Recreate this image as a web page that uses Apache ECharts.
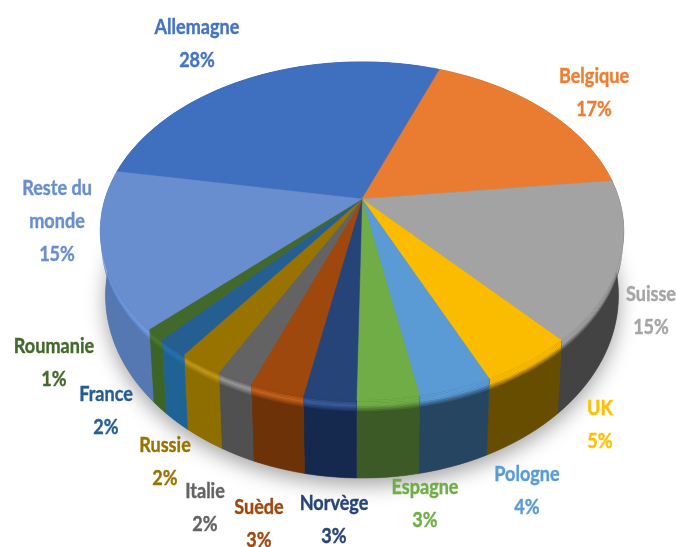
<!DOCTYPE html>
<html>
<head>
<meta charset="utf-8">
<style>
  html, body { margin: 0; padding: 0; background: #fff; }
  #chart { width: 676px; height: 547px; filter: blur(0.6px); }
</style>
<script src="https://cdn.jsdelivr.net/npm/echarts@6/dist/echarts.min.js"></script>
</head>
<body>
<div id="chart"></div>
<script>
// data
const countries = ['Allemagne', 'Belgique', 'Suisse', 'UK', 'Pologne', 'Espagne', 'Norvège', 'Suède', 'Italie', 'Russie', 'France', 'Roumanie', 'Reste du\nmonde']
const shares = [28.0, 17.4, 15.2, 4.9, 3.8, 3.2, 2.7, 2.8, 1.9, 2.3, 1.7, 1.1, 15.0]

// styles
const faceColors = ['#3F6FBF', '#E97C30', '#A3A3A3', '#FBBC00', '#5B9BD5', '#70AD47', '#264478', '#9E480E', '#636363', '#997300', '#255E91', '#43682B', '#698ED0']
const sideColors = ['#2F5590', '#AF5C24', '#434343', '#664D00', '#264560', '#3C5A25', '#15294F', '#6E3209', '#505050', '#8F6E00', '#1F6395', '#3C6426', '#5577B2']
const edgeColors = ['#3F6FBF', '#E97C30', '#A3A3A3', '#FBBC00', '#5B9BD5', '#70AD47', '#3A60A0', '#C8641E', '#9C9C9C', '#C39A1A', '#2A73B0', '#4F7A33', '#70A0EC']
const labelColors = ['#4472C4', '#ED7D31', '#A5A5A5', '#FFC000', '#5B9BD5', '#70AD47', '#264478', '#9E480E', '#636363', '#997300', '#255E91', '#43682B', '#698ED0']
// centre of the first line of each label
const labelAnchors = [[197, 27], [594, 76], [651, 294], [600, 408], [527, 474], [425, 487], [334, 503], [259, 507], [205, 491], [165, 445], [106, 394], [54, 346], [57, 188]]

// perspective of the disc
const cx = 362, cy = 199, radiusX = 257, radiusY = 163, persp = 0.189
const bottomScaleX = 0.98, bottomScaleY = 1.08, bottomDrop = 62
const startAngle = 280, bevelDepth = 0.16, bevelLayers = 8

const total = shares.reduce((a, b) => a + b, 0)
const angles = [startAngle]
shares.forEach((v) => angles.push(angles[angles.length - 1] + v / total * 360))

// t = 0 is the top rim, t = 1 the bottom rim
function rimPoint(deg, t) {
  const a = deg * Math.PI / 180
  const X = Math.sin(a), Y = -Math.cos(a)
  const w = 1 - persp * Y
  const px = radiusX * X / w, py = radiusY * Y / w
  return [
    cx + px * (1 + (bottomScaleX - 1) * t),
    cy + py * (1 + (bottomScaleY - 1) * t) + bottomDrop * t
  ]
}

function arc(a0, a1, t) {
  const n = Math.max(2, Math.ceil(Math.abs(a1 - a0) / 2))
  const pts = []
  for (let i = 0; i <= n; i++) pts.push(rimPoint(a0 + (a1 - a0) * i / n, t))
  return pts
}

function strip(a0, a1, t0, t1) {
  return arc(a0, a1, t0).concat(arc(a1, a0, t1))
}

function mix(c1, c2, f) {
  const p = (c) => [1, 3, 5].map((i) => parseInt(c.substr(i, 2), 16))
  const a = p(c1), b = p(c2)
  return 'rgb(' + a.map((v, i) => Math.round(v + (b[i] - v) * f)).join(',') + ')'
}

function renderSide(params, api) {
  const i = params.dataIndex
  const a0 = angles[i], a1 = a0 + api.value(0) / total * 360
  const children = []
  if (i === 0) {
    children.push({
      type: 'polygon',
      shape: { points: arc(0, 360, 1) },
      style: { fill: '#777', shadowBlur: 20, shadowColor: 'rgba(0,0,0,0.36)', shadowOffsetY: 7 }
    })
  }
  const side = sideColors[i], face = faceColors[i], edge = edgeColors[i]
  children.push({
    type: 'polygon',
    shape: { points: strip(a0, a1, 0, 1) },
    style: { fill: side, stroke: side, lineWidth: 0.5 }
  })
  // rounded edge of the disc
  for (let k = bevelLayers - 1; k >= 0; k--) {
    const f = k / (bevelLayers - 1)
    const col = f < 0.4 ? mix(face, edge, f / 0.4) : mix(edge, side, (f - 0.4) / 0.6)
    children.push({
      type: 'polygon',
      shape: { points: strip(a0, a1, bevelDepth * k / bevelLayers, bevelDepth * (k + 1) / bevelLayers + 0.004) },
      style: { fill: col }
    })
  }
  return { type: 'group', children }
}

function renderFace(params, api) {
  const i = params.dataIndex
  const a0 = angles[i], a1 = a0 + api.value(0) / total * 360
  return {
    type: 'polygon',
    shape: { points: [[cx, cy]].concat(arc(a0, a1, 0)) },
    style: { fill: faceColors[i], stroke: faceColors[i], lineWidth: 0.5 }
  }
}

function renderLabel(params, api) {
  const i = params.dataIndex
  const pos = labelAnchors[i]
  return {
    type: 'text',
    x: pos[0],
    y: pos[1] - 16,
    scaleX: 0.86,
    style: {
      text: countries[i] + '\n' + Math.round(api.value(0)) + '%',
      fill: labelColors[i],
      stroke: labelColors[i],
      lineWidth: 0.4,
      font: 'bold 21px Lato, "Open Sans", sans-serif',
      lineHeight: 33,
      align: 'center',
      verticalAlign: 'top'
    }
  }
}

const chart = echarts.init(document.getElementById('chart'))
chart.setOption({
  animation: false,
  backgroundColor: '#fff',
  series: [
    { type: 'custom', coordinateSystem: 'none', silent: true, z: 1, data: shares, renderItem: renderSide },
    { type: 'custom', coordinateSystem: 'none', silent: true, z: 2, data: shares, renderItem: renderFace },
    { type: 'custom', coordinateSystem: 'none', silent: true, z: 3, data: shares, renderItem: renderLabel }
  ]
})
</script>
</body>
</html>
